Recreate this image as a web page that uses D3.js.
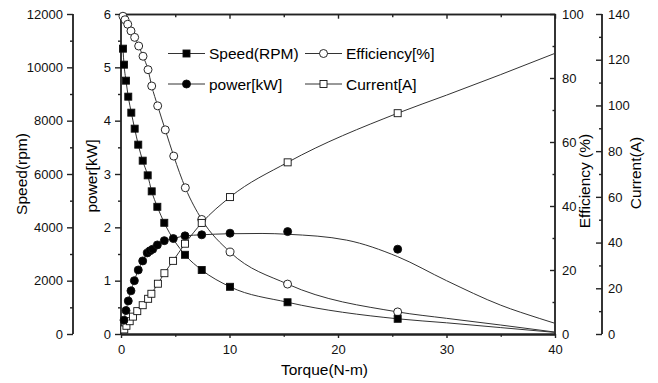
<!DOCTYPE html>
<html>
<head>
<meta charset="utf-8">
<script src="https://cdn.jsdelivr.net/npm/d3@7"></script>
<style>
  body { margin: 0; background: #fff; }
  svg { font-family: "Liberation Sans", Arial, sans-serif; }
  .axis path, .axis line { stroke: #222; stroke-width: 1.4; }
  .axis text { font-size: 13px; fill: #111; }
</style>
</head>
<body>
<svg width="658" height="383"></svg>
<script>
// measured points (torque N-m, value)
var speedTorque = [0.18, 0.28, 0.46, 0.67, 0.95, 1.26, 1.59, 2.0, 2.46, 2.83, 3.35, 3.99, 5.9, 7.44, 10.05, 15.35, 25.5];
var speedRpm    = [10700, 10100, 9500, 8900, 8300, 7700, 7100, 6500, 5950, 5350, 4770, 4170, 2970, 2400, 1770, 1190, 570];
var speedTailT  = [30, 35, 40];
var speedTailV  = [420, 240, 60];

var effTorque = [0.18, 0.37, 0.62, 0.92, 1.26, 1.63, 2.03, 2.49, 2.83, 3.38, 4.08, 4.86, 5.93, 7.44, 10.05, 15.35, 25.5];
var effPct    = [99.3, 98.2, 96.8, 94.7, 92.7, 90.0, 86.8, 82.6, 77.5, 71.3, 63.8, 55.6, 45.7, 35.8, 25.6, 15.6, 6.9];
var effTailT  = [30, 35, 40];
var effTailV  = [4.9, 2.8, 0.6];

var powTorque = [0.28, 0.46, 0.67, 0.92, 1.23, 1.59, 2.0, 2.42, 2.67, 2.92, 3.35, 3.99, 4.82, 5.9, 7.44, 10.05, 15.36, 25.5];
var powKw     = [0.26, 0.44, 0.62, 0.81, 1.0, 1.2, 1.37, 1.52, 1.56, 1.59, 1.67, 1.75, 1.79, 1.84, 1.86, 1.89, 1.92, 1.59];
// fitted power curve as drawn
var powFitT = [0.28, 0.46, 0.67, 0.92, 1.23, 1.59, 2.0, 2.42, 2.92, 3.35, 3.99, 4.82, 5.9, 7.44, 10.05, 13, 15.36, 20.8, 25.5, 30, 35, 38.6, 40];
var powFitV = [0.26, 0.44, 0.62, 0.81, 1.0, 1.2, 1.37, 1.52, 1.59, 1.67, 1.75, 1.79, 1.84, 1.86, 1.88, 1.885, 1.87, 1.76, 1.45, 1.0, 0.54, 0.29, 0.2];

var curTorque = [0.3, 0.5, 0.8, 1.1, 1.5, 2.0, 2.5, 2.8, 3.4, 4.0, 4.8, 5.9, 7.44, 10.05, 15.36, 25.5];
var curAmp    = [2.0, 3.6, 5.6, 7.6, 10.0, 12.6, 15.4, 17.6, 22.0, 26.6, 32.0, 39.5, 48.6, 59.9, 75.1, 96.6];
var curTailT  = [30, 35, 40];
var curTailV  = [104.5, 113.5, 122.8];

var xTicks = [0, 10, 20, 30, 40];
var speedTicks = [0, 2000, 4000, 6000, 8000, 10000, 12000];
var powTicks = [0, 1, 2, 3, 4, 5, 6];
var effTicks = [0, 20, 40, 60, 80, 100];
var curTicks = [0, 20, 40, 60, 80, 100, 120, 140];

var plotL = 121, plotR = 555, plotT = 14, plotB = 334;

var x = d3.scaleLinear().domain([0, 40]).range([plotL, plotR]);
var ySpeed = d3.scaleLinear().domain([0, 12000]).range([plotB, plotT]);
var yPow = d3.scaleLinear().domain([0, 6]).range([plotB, plotT]);
var yEff = d3.scaleLinear().domain([0, 100]).range([plotB, plotT]);
var yCur = d3.scaleLinear().domain([0, 140]).range([plotB, plotT]);

var svg = d3.select('svg');

function mids(t) {
  var m = [];
  for (var i = 0; i < t.length - 1; i++) m.push((t[i] + t[i + 1]) / 2);
  return m;
}

function vAxis(axisFn, scale, ticks, xpos, size, pad) {
  var g = svg.append('g').attr('class', 'axis')
    .attr('transform', 'translate(' + xpos + ',0)');
  g.append('g').call(axisFn(scale).tickValues(mids(ticks)).tickSizeInner(size / 2).tickSizeOuter(0).tickFormat(''));
  g.append('g').call(axisFn(scale).tickValues(ticks).tickSizeInner(size).tickSizeOuter(0).tickPadding(pad).tickFormat(d3.format('d')));
  g.selectAll('.domain').attr('d', 'M0,' + plotT + 'V' + plotB);
  return g;
}

// left axes
vAxis(d3.axisLeft, ySpeed, speedTicks, 73, 6, 4);
vAxis(d3.axisLeft, yPow, powTicks, plotL, 6, 4);
// right axes, ticks pointing inward
vAxis(d3.axisRight, yEff, effTicks, plotR, -5, 7);
vAxis(d3.axisRight, yCur, curTicks, 602, -6, 6);

// bottom axis
var gx = svg.append('g').attr('class', 'axis').attr('transform', 'translate(0,' + plotB + ')');
gx.append('g').call(d3.axisBottom(x).tickValues(mids(xTicks)).tickSizeInner(2.7).tickSizeOuter(0).tickFormat(''));
gx.append('g').call(d3.axisBottom(x).tickValues(xTicks).tickSizeInner(4).tickSizeOuter(0).tickPadding(7));
gx.selectAll('.domain').style('stroke-width', 2);

// top border
var gt = svg.append('g').attr('class', 'axis').attr('transform', 'translate(0,' + plotT + ')');
gt.append('g').call(d3.axisTop(x).tickValues(mids(xTicks)).tickSizeInner(-3.3).tickSizeOuter(0).tickFormat(''));
gt.append('g').call(d3.axisTop(x).tickValues(xTicks).tickSizeInner(-4.7).tickSizeOuter(0).tickFormat(''));

// curves
function zip(t, v) { return t.map(function (d, i) { return [d, v[i]]; }); }

function drawLine(pts, y) {
  svg.append('path')
    .datum(pts)
    .attr('fill', 'none')
    .attr('stroke', '#333')
    .attr('stroke-width', 1)
    .attr('d', d3.line().x(function (d) { return x(d[0]); }).y(function (d) { return y(d[1]); })
      .curve(d3.curveMonotoneX));
}

drawLine(zip(speedTorque.concat(speedTailT), speedRpm.concat(speedTailV)), ySpeed);
drawLine(zip(effTorque.concat(effTailT), effPct.concat(effTailV)), yEff);
drawLine(zip(powFitT, powFitV), yPow);
drawLine(zip(curTorque.concat(curTailT), curAmp.concat(curTailV)), yCur);

// markers
function squares(pts, y, fill) {
  svg.append('g').selectAll('rect').data(pts).enter().append('rect')
    .attr('x', function (d) { return x(d[0]) - 3.5; })
    .attr('y', function (d) { return y(d[1]) - 3.5; })
    .attr('width', 7).attr('height', 7)
    .attr('fill', fill).attr('stroke', '#111').attr('stroke-width', 0.9);
}
function circles(pts, y, fill) {
  svg.append('g').selectAll('circle').data(pts).enter().append('circle')
    .attr('cx', function (d) { return x(d[0]); })
    .attr('cy', function (d) { return y(d[1]); })
    .attr('r', 4)
    .attr('fill', fill).attr('stroke', '#111').attr('stroke-width', 0.9);
}

circles(zip(effTorque, effPct), yEff, '#fff');
squares(zip(curTorque, curAmp), yCur, '#fff');
circles(zip(powTorque, powKw), yPow, '#000');
squares(zip(speedTorque, speedRpm), ySpeed, '#000');

// legend
var legend = [
  {label: 'Speed(RPM)', shape: 'square', fill: '#000', lx: 168, ly: 53.5},
  {label: 'power[kW]', shape: 'circle', fill: '#000', lx: 168, ly: 84},
  {label: 'Efficiency[%]', shape: 'circle', fill: '#fff', lx: 305, ly: 53.5},
  {label: 'Current[A]', shape: 'square', fill: '#fff', lx: 305, ly: 84}
];
legend.forEach(function (d) {
  svg.append('line').attr('x1', d.lx).attr('x2', d.lx + 37).attr('y1', d.ly).attr('y2', d.ly)
    .attr('stroke', '#333').attr('stroke-width', 1);
  if (d.shape === 'square') {
    svg.append('rect').attr('x', d.lx + 18.5 - 3.5).attr('y', d.ly - 3.5).attr('width', 7).attr('height', 7)
      .attr('fill', d.fill).attr('stroke', '#111').attr('stroke-width', 0.9);
  } else {
    svg.append('circle').attr('cx', d.lx + 18.5).attr('cy', d.ly).attr('r', 4)
      .attr('fill', d.fill).attr('stroke', '#111').attr('stroke-width', 0.9);
  }
  svg.append('text').attr('x', d.lx + 41).attr('y', d.ly + 5.5)
    .style('font-size', '15.5px').text(d.label);
});

// axis titles
function vTitle(txt, xpos, ymid) {
  svg.append('text')
    .attr('transform', 'translate(' + xpos + ',' + ymid + ') rotate(-90)')
    .style('text-anchor', 'middle').style('font-size', '15.5px')
    .text(txt);
}
vTitle('Speed(rpm)', 27, 174);
vTitle('power[kW]', 97, 176);
vTitle('Efficiency (%)', 590, 181);
vTitle('Current(A)', 641, 173);

svg.append('text')
  .attr('x', 324.5).attr('y', 375)
  .style('text-anchor', 'middle').style('font-size', '15.5px')
  .text('Torque(N-m)');
</script>
</body>
</html>
